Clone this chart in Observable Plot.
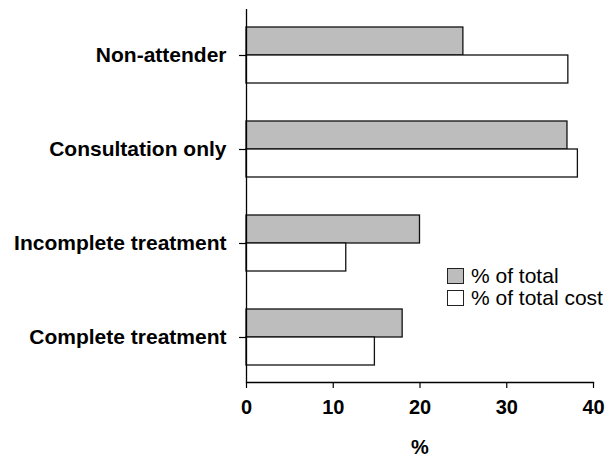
<!DOCTYPE html>
<html>
<head>
<meta charset="utf-8">
<script src="https://cdn.jsdelivr.net/npm/d3@7"></script>
<script src="https://cdn.jsdelivr.net/npm/@observablehq/plot@0.6"></script>
<style>
  html, body { margin: 0; padding: 0; background: #fff; }
  #wrap { position: relative; width: 606px; height: 456px; }
  #legend { position: absolute; left: 447px; top: 265px; font-family: "Liberation Sans", Arial, sans-serif; font-size: 21px; color: #000; line-height: 22px; }
  #legend .row { display: flex; align-items: center; height: 22px; }
  #legend .sw { width: 17px; height: 16px; border: 1.2px solid #222; box-sizing: border-box; margin-right: 7px; }
</style>
</head>
<body>
<div id="wrap"></div>
<script>
const categories = ["Non-attender", "Consultation only", "Incomplete treatment", "Complete treatment"];
const pctTotal = [25, 37, 20, 18];
const pctTotalCost = [37.1, 38.2, 11.5, 14.8];
const seriesNames = ["% of total", "% of total cost"];
const seriesColors = ["#bdbdbd", "#ffffff"];
const xTicks = [0, 10, 20, 30, 40];

const rows = categories.map((c, i) => ({category: c, total: pctTotal[i], cost: pctTotalCost[i]}));

const font = "'Liberation Sans', Arial, Helvetica, sans-serif";
const plot = Plot.plot({
  width: 606,
  height: 456,
  marginTop: 9,
  marginBottom: 74,
  marginLeft: 246,
  marginRight: 13,
  style: {fontFamily: font, fontSize: "20px", fontWeight: "bold", color: "#000", background: "#fff"},
  x: {domain: [0, 40]},
  y: {domain: categories, paddingInner: 0.407, paddingOuter: 0.179},
  marks: [
    Plot.barX(rows, {x: "total", y: "category", fill: seriesColors[0], stroke: "#111", strokeWidth: 1.3, insetBottom: 28}),
    Plot.barX(rows, {x: "cost", y: "category", fill: seriesColors[1], stroke: "#111", strokeWidth: 1.3, insetTop: 28}),
    Plot.ruleX([0], {stroke: "#000", strokeWidth: 1.3}),
    Plot.frame({anchor: "bottom", stroke: "#000", strokeWidth: 1.3}),
    Plot.axisY({tickSize: 7, tickPadding: 13, label: null, fontSize: 21, stroke: "#000", strokeWidth: 1.2}),
    Plot.axisX({ticks: xTicks, tickSize: 6, tickPadding: 11, fontSize: 20, label: "%", labelAnchor: "center", labelArrow: "none", labelOffset: 71, stroke: "#000", strokeWidth: 1.2})
  ]
});
document.getElementById("wrap").appendChild(plot);

const legend = document.createElement("div");
legend.id = "legend";
seriesNames.forEach((n, i) => {
  const r = document.createElement("div");
  r.className = "row";
  const sw = document.createElement("div");
  sw.className = "sw";
  sw.style.background = seriesColors[i];
  const t = document.createElement("span");
  t.textContent = n;
  r.appendChild(sw); r.appendChild(t);
  legend.appendChild(r);
});
document.getElementById("wrap").appendChild(legend);
</script>
</body>
</html>
